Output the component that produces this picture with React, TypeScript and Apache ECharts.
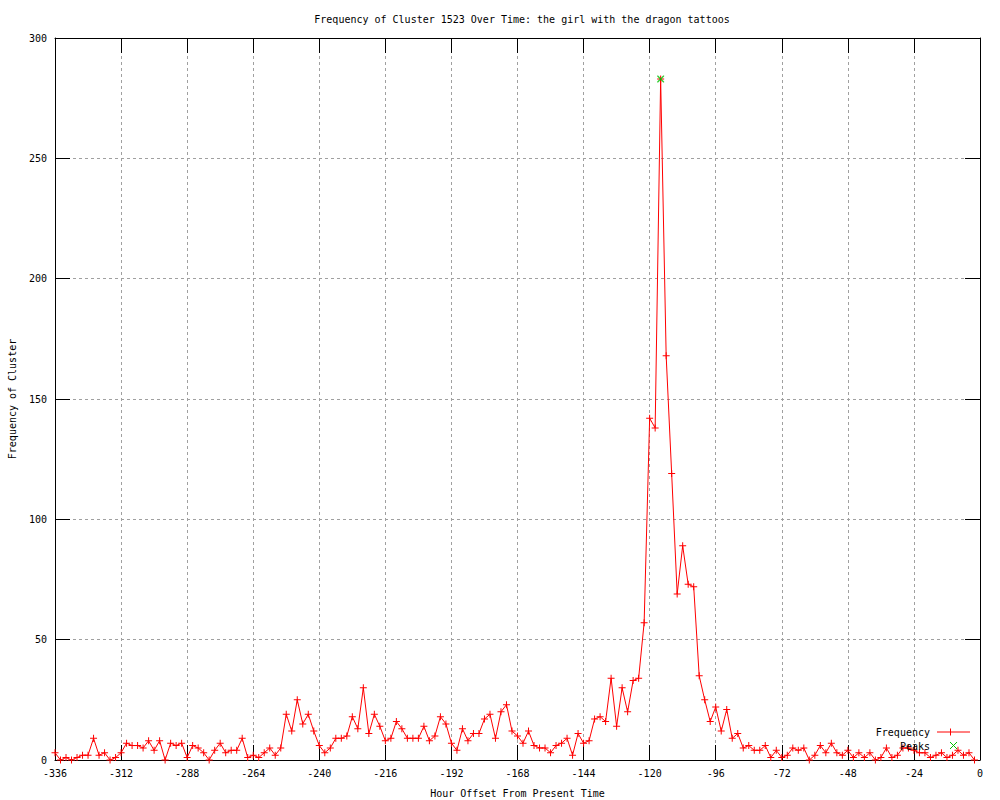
import React, { useEffect, useRef } from "react";
import * as echarts from "echarts";

const hours = [
  -336, -334, -332, -330, -328, -326, -324, -322, -320, -318, -316, -314, -312, -310, -308, -306, -304, -302, -300, -298,
  -296, -294, -292, -290, -288, -286, -284, -282, -280, -278, -276, -274, -272, -270, -268, -266, -264, -262, -260, -258,
  -256, -254, -252, -250, -248, -246, -244, -242, -240, -238, -236, -234, -232, -230, -228, -226, -224, -222, -220, -218,
  -216, -214, -212, -210, -208, -206, -204, -202, -200, -198, -196, -194, -192, -190, -188, -186, -184, -182, -180, -178,
  -176, -174, -172, -170, -168, -166, -164, -162, -160, -158, -156, -154, -152, -150, -148, -146, -144, -142, -140, -138,
  -136, -134, -132, -130, -128, -126, -124, -122, -120, -118, -116, -114, -112, -110, -108, -106, -104, -102, -100, -98,
  -96, -94, -92, -90, -88, -86, -84, -82, -80, -78, -76, -74, -72, -70, -68, -66, -64, -62, -60, -58,
  -56, -54, -52, -50, -48, -46, -44, -42, -40, -38, -36, -34, -32, -30, -28, -26, -24, -22, -20, -18,
  -16, -14, -12, -10, -8, -6, -4, -2,
];

const frequency = [
  3, 0, 1, 0, 1, 2, 2, 9, 2, 3, 0, 1, 3, 7, 6, 6, 5, 8, 4, 8,
  0, 7, 6, 7, 1, 6, 5, 3, 0, 4, 7, 3, 4, 4, 9, 1, 2, 1, 3, 5,
  2, 5, 19, 12, 25, 15, 19, 12, 6, 3, 5, 9, 9, 10, 18, 13, 30, 11, 19, 14,
  8, 9, 16, 13, 9, 9, 9, 14, 8, 10, 18, 15, 7, 4, 13, 8, 11, 11, 17, 19,
  9, 20, 23, 12, 10, 7, 12, 6, 5, 5, 3, 6, 7, 9, 2, 11, 7, 8, 17, 18,
  16, 34, 14, 30, 20, 33, 34, 57, 142, 138, 283, 168, 119, 69, 89, 73, 72, 35, 25, 16,
  22, 12, 21, 9, 11, 5, 6, 4, 4, 6, 1, 4, 1, 2, 5, 4, 5, 0, 2, 6,
  3, 7, 3, 2, 4, 1, 3, 1, 3, 0, 1, 5, 1, 2, 5, 5, 4, 3, 3, 1,
  2, 3, 1, 2, 4, 2, 3, 0,
];

const peakHours = [-116];
const peakValues = [283];

const titleText = "Frequency of Cluster 1523 Over Time: the girl with the dragon tattoos";
const xName = "Hour Offset From Present Time";
const yName = "Frequency of Cluster";
const legendNames = ["Frequency", "Peaks"];

const FONT = "DejaVu Sans Mono";
const RED = "#ff0000";
const GREEN = "#00c000";
const PLUS = "path://M3,0h1v7h-1zM0,3h7v1h-7z";
const CROSS = "path://M0,0L1,0L7,6L7,7L6,7L0,1ZM6,0L7,0L7,1L1,7L0,7L0,6Z";

export default function App() {
  const ref = useRef<HTMLDivElement>(null);
  useEffect(() => {
    if (!ref.current) return;
    const chart = echarts.init(ref.current, undefined, { renderer: "svg" });
    const tickStyle = { show: true, inside: true, length: 15, lineStyle: { color: "#000", width: 1 } };
    const lineStyle = { show: true, onZero: false, lineStyle: { color: "#000", width: 1 } };
    const split = { show: true, lineStyle: { color: "#a0a0a0", width: 1, type: [3, 3] as any } };
    const label = { color: "#000", fontFamily: FONT, fontSize: 10 };
    chart.setOption({
      animation: false,
      backgroundColor: "#fff",
      title: {
        text: titleText,
        left: 517,
        textAlign: "center",
        top: 9,
        textStyle: { color: "#000", fontFamily: FONT, fontSize: 10, fontWeight: "normal" },
      },
      grid: { left: 55, top: 38, width: 925, height: 722, containLabel: false, outerBoundsMode: "none" },
      xAxis: [
        {
          type: "value",
          min: -336,
          max: 0,
          interval: 24,
          position: "bottom",
          axisLine: lineStyle,
          axisTick: tickStyle,
          splitLine: split,
          axisLabel: { ...label, margin: 8 },
          name: xName,
          nameLocation: "middle",
          nameGap: 28,
          nameTextStyle: { color: "#000", fontFamily: FONT, fontSize: 10 },
        },
        {
          type: "value",
          min: -336,
          max: 0,
          interval: 24,
          position: "top",
          axisLine: lineStyle,
          axisTick: tickStyle,
          splitLine: { show: false },
          axisLabel: { show: false },
        },
      ],
      yAxis: [
        {
          type: "value",
          min: 0,
          max: 300,
          interval: 50,
          position: "left",
          axisLine: lineStyle,
          axisTick: tickStyle,
          splitLine: split,
          axisLabel: { ...label, margin: 8 },
          name: yName,
          nameLocation: "middle",
          nameGap: 38,
          nameRotate: 90,
          nameTextStyle: { color: "#000", fontFamily: FONT, fontSize: 10 },
        },
        {
          type: "value",
          min: 0,
          max: 300,
          interval: 50,
          position: "right",
          axisLine: lineStyle,
          axisTick: tickStyle,
          splitLine: { show: false },
          axisLabel: { show: false },
        },
      ],
      series: [
        {
          name: legendNames[0],
          type: "line",
          data: hours.map((h, i) => [h, frequency[i]]),
          lineStyle: { color: RED, width: 1 },
          itemStyle: { color: RED },
          symbol: PLUS,
          symbolSize: 7,
          showAllSymbol: true,
          z: 3,
        },
        {
          name: legendNames[1],
          type: "scatter",
          data: peakHours.map((h, i) => [h, peakValues[i]]),
          itemStyle: { color: GREEN },
          symbol: CROSS,
          symbolSize: 7,
          z: 4,
        },
      ],
      graphic: [
        {
          type: "text",
          x: 930,
          y: 732,
          style: { text: legendNames[0], fill: "#000", font: `10px "${FONT}"`, align: "right", verticalAlign: "middle" },
          z: 10,
        },
        { type: "line", shape: { x1: 937, y1: 732, x2: 970, y2: 732 }, style: { stroke: RED, lineWidth: 1 }, z: 10 },
        { type: "line", shape: { x1: 950.5, y1: 728.5, x2: 950.5, y2: 735.5 }, style: { stroke: RED, lineWidth: 1 }, z: 10 },
        {
          type: "text",
          x: 930,
          y: 746,
          style: { text: legendNames[1], fill: "#000", font: `10px "${FONT}"`, align: "right", verticalAlign: "middle" },
          z: 10,
        },
        { type: "line", shape: { x1: 950, y1: 742, x2: 957, y2: 749 }, style: { stroke: GREEN, lineWidth: 1 }, z: 10 },
        { type: "line", shape: { x1: 950, y1: 749, x2: 957, y2: 742 }, style: { stroke: GREEN, lineWidth: 1 }, z: 10 },
      ],
    });
    return () => chart.dispose();
  }, []);
  return (
    <div
      ref={ref}
      style={{ position: "fixed", left: 0, top: 0, width: 1000, height: 800, background: "#fff" }}
    />
  );
}
